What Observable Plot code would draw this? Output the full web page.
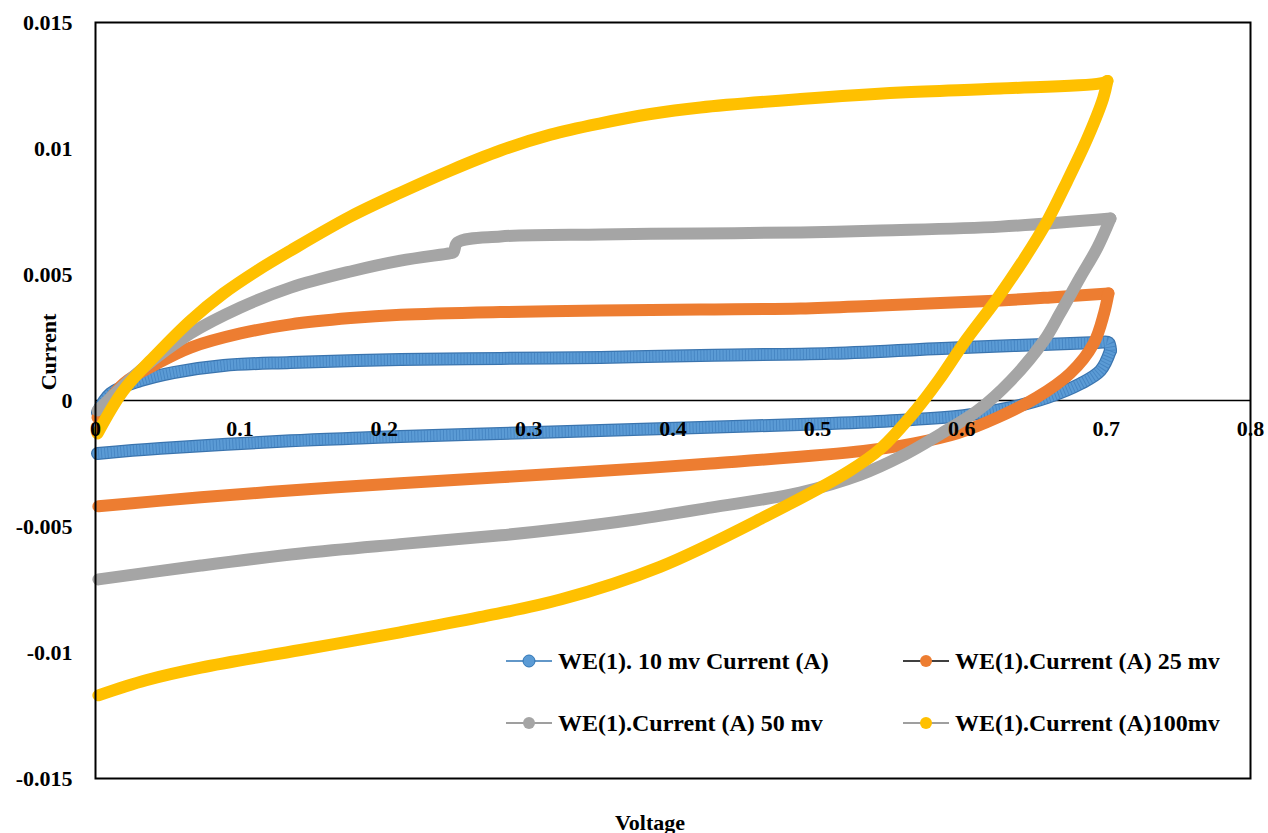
<!DOCTYPE html>
<html>
<head>
<meta charset="utf-8">
<script src="https://cdn.jsdelivr.net/npm/d3@7"></script>
<script src="https://cdn.jsdelivr.net/npm/@observablehq/plot@0.6"></script>
<style>
  html, body { margin: 0; padding: 0; background: #fff; }
  #chart svg { display: block; }
</style>
</head>
<body>
<div id="chart"></div>
<script>
// Cyclic voltammograms of WE(1) at four scan rates (voltage in V, current in A).
// Each loop runs forward 0 → 0.7 V, then back 0.7 → 0 V.

const v10 = [0.0014, 0.0104, 0.0312, 0.054, 0.0887, 0.1351, 0.2113, 0.2805, 0.3498, 0.419, 0.5091, 0.6012, 0.694, 0.7016,
             0.703, 0.6961, 0.6823, 0.6594, 0.6338, 0.6012, 0.5555, 0.5091, 0.419, 0.3498, 0.2805, 0.2113, 0.1835, 0.1351, 0.045, 0.0014];
const i10 = [-0.00048, 0.00028, 0.00079, 0.00111, 0.00139, 0.00151, 0.00163, 0.00167, 0.00171, 0.00179, 0.00187, 0.0021, 0.0023, 0.0023,
             0.00198, 0.00119, 0.00067, 0.00012, -0.00028, -0.0006, -0.00079, -0.00091, -0.00107, -0.00119, -0.00131, -0.00143, -0.00149, -0.0016, -0.0019, -0.0021];

const v25 = [0.0014, 0.0194, 0.0429, 0.0658, 0.1004, 0.1351, 0.1766, 0.2113, 0.2805, 0.3498, 0.419, 0.4883, 0.5437, 0.6268, 0.6615, 0.7016,
             0.6985, 0.6913, 0.675, 0.652, 0.625, 0.597, 0.567, 0.532, 0.426, 0.322, 0.211, 0.142, 0.073, 0.002];
const i25 = [-0.00067, 0.00067, 0.00147, 0.0021, 0.00266, 0.00302, 0.00327, 0.0034, 0.00351, 0.00357, 0.00361, 0.00365, 0.00377, 0.00397, 0.00409, 0.00425,
             0.00345, 0.00226, 0.00107, 0.00012, -0.00067, -0.0013, -0.0017, -0.002, -0.0025, -0.0029, -0.00328, -0.00354, -0.00384, -0.0042];

const v50 = [0.0014, 0.0312, 0.0658, 0.1004, 0.1351, 0.1766, 0.2113, 0.2459, 0.248, 0.2507, 0.2805, 0.3498, 0.419, 0.4883, 0.5437, 0.6268, 0.703,
             0.694, 0.682, 0.668, 0.657, 0.634, 0.611, 0.587, 0.558, 0.53, 0.488, 0.426, 0.374, 0.322, 0.281, 0.211, 0.142, 0.073, 0.002];
const i50 = [-0.0004, 0.0012, 0.00266, 0.00369, 0.00448, 0.00512, 0.00555, 0.00585, 0.00588, 0.00627, 0.00651, 0.00659, 0.00663, 0.00667, 0.00675, 0.0069, 0.00722,
             0.00607, 0.00488, 0.00345, 0.00238, 0.00079, -0.0004, -0.00127, -0.00222, -0.00294, -0.00365, -0.00425, -0.00472, -0.0051, -0.00535, -0.0057, -0.00607, -0.00655, -0.0071];

const v100 = [0.0014, 0.0194, 0.0429, 0.0658, 0.0887, 0.1122, 0.1351, 0.1766, 0.2113, 0.2459, 0.2805, 0.3152, 0.3498, 0.3844, 0.419, 0.4883, 0.5576, 0.6268, 0.6961, 0.7009,
              0.698, 0.687, 0.673, 0.659, 0.643, 0.624, 0.603, 0.584, 0.568, 0.544, 0.522, 0.464, 0.391, 0.322, 0.266, 0.211, 0.142, 0.073, 0.035, 0.002];
const i100 = [-0.00131, 0.0004, 0.00187, 0.00317, 0.00425, 0.00516, 0.00595, 0.0073, 0.00825, 0.00913, 0.00992, 0.01055, 0.011, 0.01137, 0.01163, 0.01196, 0.01222, 0.01238, 0.01258, 0.01268,
              0.012, 0.0104, 0.0087, 0.0071, 0.0056, 0.004, 0.0024, 0.0008, -0.0004, -0.0019, -0.0028, -0.0046, -0.0066, -0.0079, -0.0086, -0.0092, -0.0099, -0.0106, -0.0111, -0.0117];

const seriesNames = ["WE(1). 10 mv Current (A)", "WE(1).Current (A) 25 mv", "WE(1).Current (A) 50 mv", "WE(1).Current (A)100mv"];
const seriesColors = ["#5B9BD5", "#ED7D31", "#A5A5A5", "#FFC000"];
const legendLineColors = ["#2E75B6", "#000000", "#7F7F7F", "#7F7F7F"];

const xTicks = [0, 0.1, 0.2, 0.3, 0.4, 0.5, 0.6, 0.7, 0.8];
const yTicks = [0.015, 0.01, 0.005, 0, -0.005, -0.01, -0.015];

const xTitle = "Voltage";
const yTitle = "Current";

// Split a loop at its vertex (highest voltage) into a forward and a reverse sweep
// that share the vertex point, so each sweep is smoothed on its own.
function sweeps(vs, is) {
  const k = d3.maxIndex(vs);
  const fwd = vs.slice(0, k + 1).map((v, j) => ({v, i: is[j], sweep: "fwd"}));
  const rev = vs.slice(k).map((v, j) => ({v, i: is[k + j], sweep: "rev"}));
  return fwd.concat(rev);
}
const s10 = sweeps(v10, i10);
const s25 = sweeps(v25, i25);
const s50 = sweeps(v50, i50);
const s100 = sweeps(v100, i100);

const FONT = "'Liberation Serif', 'Times New Roman', serif";
const thick = {x: "v", y: "i", z: "sweep", curve: "catmull-rom", strokeLinecap: "round", strokeLinejoin: "round"};

const chart = Plot.plot({
  width: 1268,
  height: 833,
  marginLeft: 95,
  marginRight: 18,
  marginTop: 22,
  marginBottom: 55,
  x: {domain: [0, 0.8], axis: null},
  y: {domain: [-0.015, 0.015], axis: null},
  style: {fontFamily: FONT, fontWeight: "bold", fontSize: "22px", color: "#000", background: "#fff", overflow: "visible"},
  marks: [
    // zero line acting as the horizontal axis
    Plot.ruleY([0], {stroke: "#000", strokeWidth: 1.6}),
    // 10 mV: dense circular markers drawn as an outlined, ribbed band
    Plot.line(s10, {...thick, stroke: "#3A74AE", strokeWidth: 13}),
    Plot.line(s10, {...thick, stroke: seriesColors[0], strokeWidth: 10.5}),
    Plot.line(s10, {...thick, stroke: "#3F7DBC", strokeWidth: 10.5, strokeDasharray: "0.9 2.3", strokeOpacity: 0.75, strokeLinecap: "butt"}),
    // 25, 50, 100 mV
    Plot.line(s25, {...thick, stroke: seriesColors[1], strokeWidth: 12}),
    Plot.line(s50, {...thick, stroke: seriesColors[2], strokeWidth: 12}),
    Plot.line(s100, {...thick, stroke: seriesColors[3], strokeWidth: 12}),
    Plot.frame({stroke: "#000", strokeWidth: 2}),
    // y tick labels
    Plot.text(yTicks, {y: d => d, text: d => String(d), frameAnchor: "left", textAnchor: "end", dx: -23, fill: "#000"}),
    // x tick labels, hanging just under the zero line
    Plot.text(xTicks, {x: d => d, y: () => 0, text: d => String(d), dy: 28, fill: "#000"})
  ]
});

document.getElementById("chart").appendChild(chart);

// axis titles and legend
const svg = d3.select(chart);
const g = svg.append("g")
  .attr("font-family", FONT)
  .attr("font-weight", "bold")
  .attr("font-size", 22)
  .attr("fill", "#000");

g.append("text").attr("x", 650).attr("y", 822).attr("text-anchor", "middle").attr("dy", "0.35em").text(xTitle);
g.append("text").attr("transform", "translate(48,352) rotate(-90)").attr("text-anchor", "middle").attr("dy", "0.35em").text(yTitle);

const legendPos = [[529, 661], [926, 661], [529, 723], [926, 723]];
seriesNames.forEach((name, k) => {
  const [cx, cy] = legendPos[k];
  const item = g.append("g");
  item.append("line").attr("x1", cx - 23).attr("x2", cx + 23).attr("y1", cy).attr("y2", cy)
    .attr("stroke", legendLineColors[k]).attr("stroke-width", 1.5);
  item.append("circle").attr("cx", cx).attr("cy", cy).attr("r", 6)
    .attr("fill", seriesColors[k])
    .attr("stroke", k === 0 ? "#2E75B6" : "none").attr("stroke-width", 1);
  item.append("text").attr("x", cx + 29).attr("y", cy).attr("dy", "0.35em")
    .attr("text-anchor", "start").attr("font-size", 24).text(name);
});
</script>
</body>
</html>
